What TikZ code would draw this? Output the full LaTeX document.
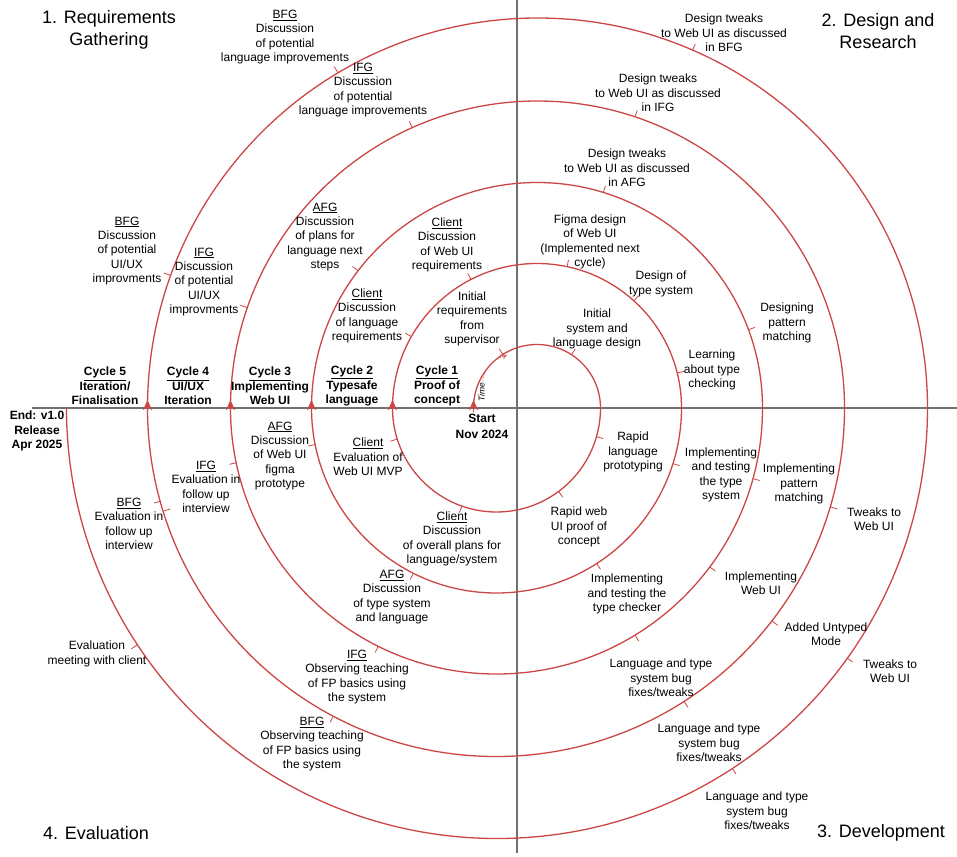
\documentclass[tikz,border=0pt]{standalone}
\usepackage{fontspec}
\setmainfont{Liberation Sans}
\usetikzlibrary{arrows.meta,calc}
\definecolor{spiral}{RGB}{204,70,70}
\definecolor{axisc}{RGB}{112,112,112}
\definecolor{timec}{RGB}{212,105,105}
\begin{document}
\begin{tikzpicture}[x=1pt,y=-1pt,
  lbl/.style={align=center, inner sep=0pt, font=\fontsize{12}{14.4}\selectfont},
  cyc/.style={align=center, inner sep=0pt, font=\fontsize{12}{14.4}\selectfont\bfseries},
  head/.style={align=center, inner sep=0pt, font=\fontsize{18}{21.6}\selectfont},
  sp/.style={draw=spiral, line width=1.3pt},
  tk/.style={draw=spiral, line width=0.8pt},
  ax/.style={draw=axisc, line width=1.3pt},
  uparrow/.style={sp, -{Stealth[length=10pt,width=9pt,inset=2.5pt]}}]
\useasboundingbox (0,0) rectangle (957,856);
% centres of the half circles
\coordinate (T) at (537,408);
\coordinate (B) at (496.5,408);
% axes
\coordinate (axL) at (32,408);
\coordinate (axR) at (957,408);
\coordinate (axT) at (517,0);
\coordinate (axB) at (517,853);
\draw[ax] (axL) -- (axR);
\draw[ax] (axT) -- (axB);
% spiral
\coordinate (s0) at (473.5,408);
\draw[sp] (s0) arc[start angle=180,end angle=360,radius=63.5]
  arc[start angle=0,end angle=180,radius=104]
  arc[start angle=180,end angle=360,radius=144.5]
  arc[start angle=0,end angle=180,radius=185]
  arc[start angle=180,end angle=360,radius=225.5]
  arc[start angle=0,end angle=180,radius=266]
  arc[start angle=180,end angle=360,radius=307]
  arc[start angle=0,end angle=180,radius=348.5]
  arc[start angle=180,end angle=360,radius=390]
  arc[start angle=0,end angle=180,radius=430.5];
% arrows at the start of each cycle
\foreach \x in {473.5,392.5,311.5,230.5,147.5}{
  \draw[uparrow] (\x,412) -- (\x,400);
}
% ticks on upper half circles
\foreach \a/\r in {-120.7/390,-114/307,-142.5/225.5,-117.2/144.5,-122.5/63.5,-150.4/144.5,
  -160.1/390,-160.9/307,-66.5/390,-71.4/307,-72.9/225.5,-78/144.5,-47.9/144.5,-57.1/63.5,
  -20.3/225.5,-14/144.5}{
  \pgfmathsetmacro\rr{\r+7}
  \draw[tk] ($(T)+(\a:\r)$) -- ($(T)+(\a:\rr)$);
}
% ticks on lower half circles
\foreach \a/\r in {16/104,17.5/185,15.4/266,16.5/348.5,53.4/104,57.2/185,36.7/266,37.7/348.5,
  35.5/430.5,58.6/266,57.4/348.5,56.8/430.5,168.6/185,162.6/104,168.1/266,164.5/348.5,
  146.6/430.5,109.5/104,116.7/185,116.4/266,117.9/348.5}{
  \pgfmathsetmacro\rr{\r+7}
  \draw[tk] ($(B)+(\a:\r)$) -- ($(B)+(\a:\rr)$);
}
\draw[tk] ($(B)+(162.8:348.5)$) -- ($(B)+(162.8:341.5)$);
% time arrow
\coordinate (tA) at (483,380);
\coordinate (tB) at (507,355);
\draw[timec, line width=1.3pt, line cap=round, dash pattern=on 0.1pt off 2.6pt] (tA) .. controls (484,367) and (494,359) .. (tB);
\draw[timec, line width=0.9pt, -{Stealth[length=5pt,width=5pt,open]}] (503.5,356.5) -- (tB);
\node[rotate=90, inner sep=0pt, font=\fontsize{8.5}{10}\selectfont\itshape] (time) at (481.5,392) {Time};
% headings
\node[head] (h1) at (109,30) {1. Requirements\\Gathering};
\node[head] (h2) at (878,31) {2. Design and\\Research};
\node[head] (h3) at (881,833) {3. Development};
\node[head] (h4) at (96,833) {4. Evaluation};
% cycle labels
\node[cyc] (c5) at (105,386) {\underline{Cycle 5}\\Iteration/\\Finalisation};
\node[cyc] (c4) at (188,386) {\underline{Cycle 4}\\UI/UX\\Iteration};
\node[cyc] (c3) at (270,386) {\underline{Cycle 3}\\Implementing\\Web UI};
\node[cyc] (c2) at (352,386) {\underline{Cycle 2}\\Typesafe\\language};
\node[cyc] (c1) at (437,386) {\underline{Cycle 1}\\Proof of\\concept};
\node[cyc] (endn) at (37,431) {End: v1.0\\Release\\Apr 2025};
\node[cyc, font=\fontsize{12}{16}\selectfont\bfseries] (startn) at (482,426) {Start\\Nov 2024};
% requirements gathering quadrant
\node[lbl] (l1) at (285,37) {\underline{BFG}\\Discussion\\of potential\\language improvements};
\node[lbl] (l2) at (363,90) {\underline{IFG}\\Discussion\\of potential\\language improvements};
\node[lbl] (l3) at (325,237) {\underline{AFG}\\Discussion\\of plans for\\language next\\steps};
\node[lbl] (l4) at (447,245) {\underline{Client}\\Discussion\\of Web UI\\requirements};
\node[lbl] (l5) at (472,319) {Initial\\requirements\\from\\supervisor};
\node[lbl] (l6) at (367,316) {\underline{Client}\\Discussion\\of language\\requirements};
\node[lbl] (l7) at (127,251) {\underline{BFG}\\Discussion\\of potential\\UI/UX\\improvments};
\node[lbl] (l8) at (204,282) {\underline{IFG}\\Discussion\\of potential\\UI/UX\\improvments};
% evaluation quadrant
\node[lbl] (l9) at (280,456) {\underline{AFG}\\Discussion\\of Web UI\\figma\\prototype};
\node[lbl] (l10) at (368,457) {\underline{Client}\\Evaluation of\\Web UI MVP};
\node[lbl] (l11) at (206,487) {\underline{IFG}\\Evaluation in\\follow up\\interview};
\node[lbl] (l12) at (129,524) {\underline{BFG}\\Evaluation in\\follow up\\interview};
\node[lbl] (l13) at (97,654) {Evaluation\\meeting with client};
\node[lbl] (l14) at (452,539) {\underline{Client}\\Discussion\\of overall plans for\\language/system};
\node[lbl] (l15) at (392,597) {\underline{AFG}\\Discussion\\of type system\\and language};
\node[lbl] (l16) at (357,677) {\underline{IFG}\\Observing teaching\\of FP basics using\\the system};
\node[lbl] (l17) at (312,744) {\underline{BFG}\\Observing teaching\\of FP basics using\\the system};
% design and research quadrant
\node[lbl] (r1) at (724,33) {Design tweaks\\to Web UI as discussed\\in BFG};
\node[lbl] (r2) at (658,93) {Design tweaks\\to Web UI as discussed\\in IFG};
\node[lbl] (r3) at (627,168) {Design tweaks\\to Web UI as discussed\\in AFG};
\node[lbl] (r4) at (590,242) {Figma design\\of Web UI\\(Implemented next\\cycle)};
\node[lbl] (r5) at (661,284) {Design of\\type system};
\node[lbl] (r6) at (597,329) {Initial\\system and\\language design};
\node[lbl] (r7) at (787,323) {Designing\\pattern\\matching};
\node[lbl] (r8) at (712,370) {Learning\\about type\\checking};
% development quadrant
\node[lbl] (r9) at (633,452) {Rapid\\language\\prototyping};
\node[lbl] (r10) at (721,475) {Implementing\\and testing\\the type\\system};
\node[lbl] (r11) at (799,484) {Implementing\\pattern\\matching};
\node[lbl] (r12) at (874,519) {Tweaks to\\Web UI};
\node[lbl] (r13) at (579,527) {Rapid web\\UI proof of\\concept};
\node[lbl] (r14) at (627,594) {Implementing\\and testing the\\type checker};
\node[lbl] (r15) at (761,583) {Implementing\\Web UI};
\node[lbl] (r16) at (826,634) {Added Untyped\\Mode};
\node[lbl] (r17) at (890,671) {Tweaks to\\Web UI};
\node[lbl] (r18) at (661,678) {Language and type\\system bug\\fixes/tweaks};
\node[lbl] (r19) at (709,743) {Language and type\\system bug\\fixes/tweaks};
\node[lbl] (r20) at (757,811) {Language and type\\system bug\\fixes/tweaks};
\end{tikzpicture}
\end{document}
